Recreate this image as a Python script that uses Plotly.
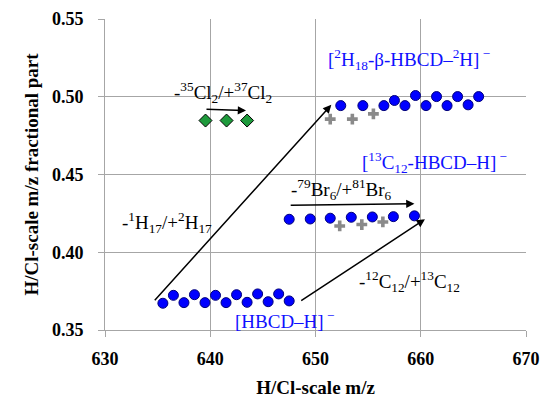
import plotly.graph_objects as go

# [HBCD-H]- cluster
hbcd_x = [635.5, 636.5, 637.5, 638.5, 639.5, 640.5, 641.5, 642.5, 643.5, 644.5, 645.5, 646.5, 647.5]
hbcd_y = [0.3672, 0.3723, 0.3676, 0.3727, 0.3676, 0.3723, 0.3676, 0.3727, 0.3678, 0.3732, 0.3682, 0.3732, 0.3687]

# [2H18-beta-HBCD-2H]- cluster
d18_x = [652.4, 654.5, 656.5, 657.5, 658.5, 659.5, 660.5, 661.5, 662.5, 663.5, 664.5, 665.5]
d18_y = [0.4943, 0.4943, 0.4943, 0.4976, 0.4943, 0.5008, 0.4943, 0.5001, 0.4943, 0.5001, 0.4948, 0.5001]
d18_gray_x = [651.4, 653.5, 655.5]
d18_gray_y = [0.4856, 0.4856, 0.4890]

# [13C12-HBCD-H]- cluster
c13_x = [647.5, 649.5, 651.4, 653.4, 655.4, 657.4, 659.4]
c13_y = [0.4212, 0.4214, 0.4219, 0.4225, 0.4227, 0.4229, 0.4234]
c13_gray_x = [652.3, 654.4, 656.4]
c13_gray_y = [0.4169, 0.4178, 0.4195]

# Cl isotope shift points
cl_x = [639.55, 641.55, 643.5]
cl_y = [0.4847, 0.4847, 0.4847]

x_ticks = [630, 640, 650, 660, 670]
y_ticks = [0.35, 0.40, 0.45, 0.50, 0.55]

SERIF = "Liberation Serif"
BLUE = "#1010ff"

fig = go.Figure()

blue_marker = dict(symbol="circle", size=10, color="#0000ff", line=dict(color="#00007a", width=1))
gray_marker = dict(symbol="cross", size=9, color="#8a8a8a", line=dict(width=0))

fig.add_trace(go.Scatter(x=hbcd_x, y=hbcd_y, mode="markers", marker=blue_marker))
fig.add_trace(go.Scatter(x=d18_gray_x, y=d18_gray_y, mode="markers", marker=gray_marker))
fig.add_trace(go.Scatter(x=d18_x, y=d18_y, mode="markers", marker=blue_marker))
fig.add_trace(go.Scatter(x=c13_gray_x, y=c13_gray_y, mode="markers", marker=gray_marker))
fig.add_trace(go.Scatter(x=c13_x, y=c13_y, mode="markers", marker=blue_marker))
fig.add_trace(go.Scatter(x=cl_x, y=cl_y, mode="markers",
                         marker=dict(symbol="diamond", size=10, color="#1e9a3c",
                                     line=dict(color="#000000", width=1))))

# arrows (tail -> head)
arrows = [
    ((634.6, 0.3682), (651.5, 0.4948)),
    ((639.5, 0.4920), (643.4, 0.4911)),
    ((647.5, 0.4302), (659.4, 0.4312)),
    ((648.5, 0.3682), (660.4, 0.4212)),
]
for (tx, ty), (hx, hy) in arrows:
    fig.add_annotation(x=hx, y=hy, ax=tx, ay=ty, xref="x", yref="y", axref="x", ayref="y",
                       text="", showarrow=True, arrowhead=2, arrowsize=1.1, arrowwidth=1.5,
                       arrowcolor="#000000")

labels = [
    (658.9, 0.5237, "[<sup>2</sup>H<sub>18</sub>-β-HBCD–<sup>2</sup>H]<sup> −</sup>", BLUE),
    (661.3, 0.4575, "[<sup>13</sup>C<sub>12</sub>-HBCD–H]<sup> −</sup>", BLUE),
    (647.1, 0.3564, "[HBCD–H]<sup> −</sup>", BLUE),
    (641.2, 0.5027, "-<sup>35</sup>Cl<sub>2</sub>/+<sup>37</sup>Cl<sub>2</sub>", "#000000"),
    (652.5, 0.4401, "-<sup>79</sup>Br<sub>6</sub>/+<sup>81</sup>Br<sub>6</sub>", "#000000"),
    (635.9, 0.4189, "-<sup>1</sup>H<sub>17</sub>/+<sup>2</sup>H<sub>17</sub>", "#000000"),
    (658.9, 0.3811, "-<sup>12</sup>C<sub>12</sub>/+<sup>13</sup>C<sub>12</sub>", "#000000"),
]
for x, y, t, c in labels:
    fig.add_annotation(x=x, y=y, xref="x", yref="y", text=t, showarrow=False,
                       xanchor="center", yanchor="middle",
                       font=dict(family=SERIF, size=19, color=c))

axis_common = dict(showgrid=True, gridcolor="#a6a6a6", gridwidth=1,
                   showline=True, linecolor="#a6a6a6", linewidth=1,
                   ticks="outside", tickcolor="#a6a6a6", ticklen=6,
                   zeroline=False, automargin=False,
                   tickfont=dict(family=SERIF, size=18, color="#000000", weight="bold"))

fig.update_xaxes(range=[630, 670], tickvals=x_ticks, ticktext=[str(v) for v in x_ticks],
                 ticklabelstandoff=6,
                 title=dict(text="<b>H/Cl-scale m/z</b>", font=dict(family=SERIF, size=19, color="#000000"),
                            standoff=14),
                 **axis_common)
fig.update_yaxes(range=[0.35, 0.55], tickvals=y_ticks, ticktext=[f"{v:.2f}" for v in y_ticks],
                 ticklabelstandoff=11,
                 title=dict(text="<b>H/Cl-scale m/z fractional part</b>", font=dict(family=SERIF, size=19, color="#000000"),
                            standoff=8),
                 **axis_common)

fig.update_layout(width=541, height=398, margin=dict(l=105, r=15, t=19, b=68),
                  plot_bgcolor="#ffffff", paper_bgcolor="#ffffff", showlegend=False,
                  hovermode=False)

# remove the default 8px page margin so the figure fills the window exactly
fig.write_html("out.html", config={"displayModeBar": False, "staticPlot": True},
               post_script="document.body.style.margin='0';document.body.style.overflow='hidden';")
